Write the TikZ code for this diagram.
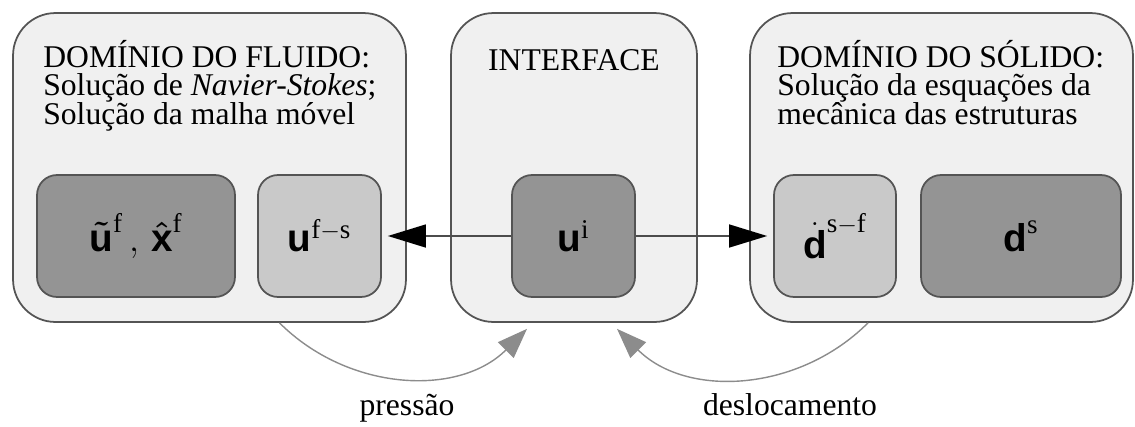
\documentclass[tikz,border=0pt]{standalone}
\usepackage{amsmath}
\usepackage{fontspec}
\setmainfont{Liberation Serif}
\setsansfont{Liberation Sans}
\usepackage{xcolor}
\usetikzlibrary{arrows.meta}

\definecolor{boxfill}{gray}{0.94}
\definecolor{darkfill}{gray}{0.58}
\definecolor{lightfill}{gray}{0.79}
\definecolor{edgegray}{gray}{0.33}
\definecolor{flowgray}{gray}{0.55}
\newcommand{\vecsf}[1]{\text{\sffamily\bfseries #1}}

\begin{document}
\begin{tikzpicture}[x=0.02cm,y=-0.02cm]
      \tikzstyle{domainbox}=[draw=edgegray, fill=boxfill, line width=1pt,
        rounded corners=0.85cm, minimum height=6.18cm, inner sep=0pt];
      \tikzstyle{varbox}=[draw=edgegray, line width=1pt, rounded corners=0.4cm,
        minimum height=2.44cm, inner sep=0pt, font=\fontsize{22}{26}\selectfont];
      \tikzstyle{heading}=[anchor=base west, inner sep=0pt,
        font=\fontsize{18}{22}\selectfont];
      \tikzstyle{linkarrow}=[draw=black!70, line width=0.8pt, shorten >=0.12cm,
        -{Triangle[length=0.76cm, width=0.46cm, color=black]}];
      \tikzstyle{flowarrow}=[draw=flowgray, line width=0.8pt,
        -{Triangle[length=0.6cm, width=0.44cm]}];
      \useasboundingbox (0,0) rectangle (1135,426);
      % dominios
      \draw (209.5,167.5) node[style=domainbox, minimum width=7.86cm] (fluid) {};
      \draw (574,167.5) node[style=domainbox, minimum width=4.92cm] (iface) {};
      \draw (941.5,167.5) node[style=domainbox, minimum width=7.66cm] (solid) {};
      \draw (43,67) node[style=heading] (fluidA) {DOMÍNIO DO FLUIDO:};
      \draw (43,95.5) node[style=heading] (fluidB) {Solução de \textit{Navier-Stokes};};
      \draw (43,124) node[style=heading] (fluidC) {Solução da malha móvel};
      \draw (574,70) node[style=heading, anchor=base] (ifacetxt) {INTERFACE};
      \draw (777,67) node[style=heading] (solidA) {DOMÍNIO DO SÓLIDO:};
      \draw (777,95.5) node[style=heading] (solidB) {Solução da esquações da};
      \draw (777,124) node[style=heading] (solidC) {mecânica das estruturas};
      % variaveis
      \draw (136,236) node[style=varbox, fill=darkfill, minimum width=3.96cm] (uxf)
        {$\boldsymbol{\tilde{\vecsf{u}}}^{\mathrm{f}}\,,\,\boldsymbol{\hat{\vecsf{x}}}^{\mathrm{f}}$};
      \draw (319.5,236) node[style=varbox, fill=lightfill, minimum width=2.46cm] (ufs)
        {$\vecsf{u}^{\mathrm{f}-\mathrm{s}}$};
      \draw (573.5,236) node[style=varbox, fill=darkfill, minimum width=2.46cm] (ui)
        {$\vecsf{u}^{\mathrm{i}}$};
      \draw (835,236) node[style=varbox, fill=lightfill, minimum width=2.44cm] (dsf)
        {$\dot{\vecsf{d}}^{\mathrm{s}-\mathrm{f}}$};
      \draw (1021,236) node[style=varbox, fill=darkfill, minimum width=4cm] (ds)
        {$\vecsf{d}^{\mathrm{s}}$};
      % transferencia
      \draw[style=linkarrow] (ui.west) -- (ufs.east);
      \draw[style=linkarrow] (ui.east) -- (dsf.west);
      \draw[style=flowarrow] ([xshift=1.4cm]fluid.south)
        to[out=-45, in=-135] ([xshift=-0.94cm, yshift=-0.12cm]iface.south);
      \draw[style=flowarrow] ([xshift=-1.47cm]solid.south)
        to[out=-135, in=-45] ([xshift=0.86cm, yshift=-0.12cm]iface.south);
      \draw (407,415) node[style=heading, anchor=base] (press) {pressão};
      \draw (790,415) node[style=heading, anchor=base] (desloc) {deslocamento};
    \end{tikzpicture}
\end{document}
